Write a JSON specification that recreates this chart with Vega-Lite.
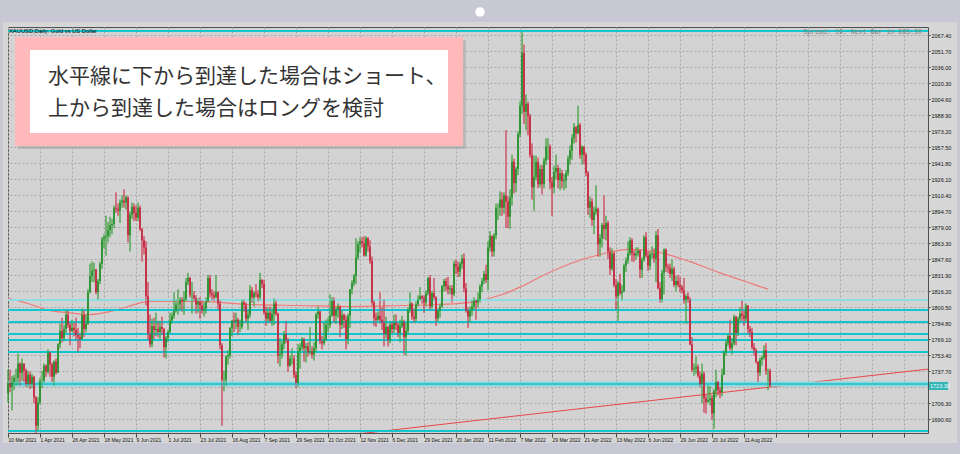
{
"$schema":"https://vega.github.io/schema/vega-lite/v6.json",
"width":920,"height":406,
"autosize":{"type":"none"},
"padding":{"left":8,"top":27,"right":32,"bottom":21},
"background":"#d6d6d6",
"config":{"view":{"stroke":"#505050","strokeWidth":1,"fill":"#d3d3d3"},
"axis":{"labelFont":"Liberation Sans","labelFontSize":5.5,"labelColor":"#111","gridColor":"#a8a8a8","gridDash":[2,2],"gridWidth":1,"tickColor":"#444","domain":false}},
"datasets":{
"frame":[{"x1":-4,"x2":476,"p1":2103,"p2":2080.2},{"x1":-4,"x2":476,"p1":1667.1,"p2":1654},{"x1":-4,"x2":-2.5,"p1":2103,"p2":1654},{"x1":474.5,"x2":476,"p1":2103,"p2":1654}],
"dot":[{"i":236,"p":2090}],
"ma":[{"i":0,"p":1809},{"i":10,"p":1804},{"i":21,"p":1797},{"i":30,"p":1795},{"i":40,"p":1793},{"i":51,"p":1796},{"i":60,"p":1801},{"i":71,"p":1806},{"i":96,"p":1806},{"i":121,"p":1803},{"i":146,"p":1802},{"i":171,"p":1801},{"i":196,"p":1802},{"i":216,"p":1803},{"i":231,"p":1805},{"i":246,"p":1812},{"i":256,"p":1820},{"i":268,"p":1832},{"i":281,"p":1843},{"i":296,"p":1852},{"i":311,"p":1857},{"i":326,"p":1854},{"i":341,"p":1845},{"i":356,"p":1834},{"i":368,"p":1826},{"i":380,"p":1818}],
"trend":[{"i":175,"p":1676},{"i":460,"p":1739.6}],
"levels":[{"p":2071.3,"k":"n"},{"p":1807.3,"k":"pale"},{"p":1797.5,"k":"n"},{"p":1785.7,"k":"n"},{"p":1774.0,"k":"n"},{"p":1768.1,"k":"n"},{"p":1756.3,"k":"n"},{"p":1724.9,"k":"wide"},{"p":1678.8,"k":"n"}],
"box":[{"x1":5,"x2":229,"p1":2062.5,"p2":1955.5,"k":"shadow"},{"x1":3.5,"x2":227.5,"p1":2065.4,"p2":1958.5,"k":"pink"},{"x1":11,"x2":220,"p1":2052.7,"p2":1971.2,"k":"white"}],
"note":[{"i":20,"p":2026.2,"t":"水平線に下から到達した場合はショート、"},{"i":20,"p":1994.8,"t":"上から到達した場合はロングを検討"}],
"pbox":[{"x1":460.5,"x2":470,"p1":1727.0,"p2":1719.1,"i":461,"p":1723,"t":"1723.30"}],
"candles":[
{"i":0,"o":1716,"h":1739,"l":1707,"c":1726},{"i":1,"o":1726,"h":1739,"l":1717,"c":1722},{"i":2,"o":1722,"h":1733,"l":1699,"c":1727},{"i":3,"o":1727,"h":1734,"l":1719,"c":1731},{"i":4,"o":1731,"h":1740,"l":1723,"c":1731},{"i":5,"o":1731,"h":1755,"l":1724,"c":1745},{"i":6,"o":1745,"h":1746,"l":1723,"c":1736},{"i":7,"o":1736,"h":1750,"l":1728,"c":1745},{"i":8,"o":1745,"h":1745,"l":1727,"c":1738},{"i":9,"o":1738,"h":1740,"l":1722,"c":1725},
{"i":10,"o":1725,"h":1738,"l":1722,"c":1734},{"i":11,"o":1734,"h":1737,"l":1720,"c":1725},{"i":12,"o":1725,"h":1735,"l":1721,"c":1732},{"i":13,"o":1732,"h":1733,"l":1706,"c":1712},{"i":14,"o":1712,"h":1713,"l":1677,"c":1684},{"i":15,"o":1684,"h":1712,"l":1679,"c":1707},{"i":16,"o":1707,"h":1731,"l":1705,"c":1728},{"i":17,"o":1728,"h":1738,"l":1721,"c":1728},{"i":18,"o":1728,"h":1745,"l":1726,"c":1743},{"i":19,"o":1743,"h":1744,"l":1732,"c":1737},
{"i":20,"o":1737,"h":1759,"l":1735,"c":1756},{"i":21,"o":1756,"h":1757,"l":1732,"c":1744},{"i":22,"o":1744,"h":1746,"l":1727,"c":1732},{"i":23,"o":1732,"h":1748,"l":1723,"c":1747},{"i":24,"o":1747,"h":1750,"l":1734,"c":1736},{"i":25,"o":1736,"h":1765,"l":1736,"c":1764},{"i":26,"o":1764,"h":1784,"l":1760,"c":1777},{"i":27,"o":1777,"h":1790,"l":1766,"c":1770},{"i":28,"o":1770,"h":1783,"l":1767,"c":1779},{"i":29,"o":1779,"h":1797,"l":1775,"c":1793},
{"i":30,"o":1793,"h":1797,"l":1780,"c":1783},{"i":31,"o":1783,"h":1785,"l":1763,"c":1777},{"i":32,"o":1777,"h":1788,"l":1776,"c":1780},{"i":33,"o":1780,"h":1785,"l":1772,"c":1778},{"i":34,"o":1778,"h":1790,"l":1768,"c":1773},{"i":35,"o":1773,"h":1780,"l":1756,"c":1771},{"i":36,"o":1771,"h":1775,"l":1760,"c":1769},{"i":37,"o":1769,"h":1799,"l":1768,"c":1793},{"i":38,"o":1793,"h":1798,"l":1771,"c":1779},{"i":39,"o":1779,"h":1793,"l":1776,"c":1784},
{"i":40,"o":1784,"h":1818,"l":1783,"c":1815},{"i":41,"o":1815,"h":1843,"l":1814,"c":1831},{"i":42,"o":1831,"h":1845,"l":1825,"c":1836},{"i":43,"o":1836,"h":1844,"l":1825,"c":1837},{"i":44,"o":1837,"h":1838,"l":1813,"c":1815},{"i":45,"o":1815,"h":1828,"l":1808,"c":1826},{"i":46,"o":1826,"h":1845,"l":1823,"c":1843},{"i":47,"o":1843,"h":1869,"l":1838,"c":1867},{"i":48,"o":1867,"h":1872,"l":1858,"c":1869},{"i":49,"o":1869,"h":1890,"l":1851,"c":1870},
{"i":50,"o":1870,"h":1884,"l":1864,"c":1876},{"i":51,"o":1876,"h":1889,"l":1869,"c":1881},{"i":52,"o":1881,"h":1887,"l":1872,"c":1882},{"i":53,"o":1882,"h":1900,"l":1878,"c":1898},{"i":54,"o":1898,"h":1913,"l":1893,"c":1897},{"i":55,"o":1897,"h":1902,"l":1890,"c":1895},{"i":56,"o":1895,"h":1906,"l":1883,"c":1903},{"i":57,"o":1903,"h":1910,"l":1898,"c":1905},{"i":58,"o":1905,"h":1916,"l":1898,"c":1903},{"i":59,"o":1903,"h":1910,"l":1896,"c":1908},
{"i":60,"o":1908,"h":1909,"l":1864,"c":1871},{"i":61,"o":1871,"h":1894,"l":1855,"c":1891},{"i":62,"o":1891,"h":1903,"l":1887,"c":1899},{"i":63,"o":1899,"h":1902,"l":1885,"c":1893},{"i":64,"o":1893,"h":1900,"l":1885,"c":1888},{"i":65,"o":1888,"h":1903,"l":1885,"c":1898},{"i":66,"o":1898,"h":1900,"l":1875,"c":1877},{"i":67,"o":1877,"h":1878,"l":1845,"c":1866},{"i":68,"o":1866,"h":1870,"l":1852,"c":1859},{"i":69,"o":1859,"h":1865,"l":1802,"c":1811},
{"i":70,"o":1811,"h":1825,"l":1768,"c":1774},{"i":71,"o":1774,"h":1793,"l":1761,"c":1764},{"i":72,"o":1764,"h":1789,"l":1761,"c":1782},{"i":73,"o":1782,"h":1790,"l":1769,"c":1778},{"i":74,"o":1778,"h":1795,"l":1772,"c":1779},{"i":75,"o":1779,"h":1787,"l":1771,"c":1776},{"i":76,"o":1776,"h":1787,"l":1768,"c":1781},{"i":77,"o":1781,"h":1791,"l":1773,"c":1779},{"i":78,"o":1779,"h":1780,"l":1751,"c":1761},{"i":79,"o":1761,"h":1772,"l":1750,"c":1770},
{"i":80,"o":1770,"h":1778,"l":1766,"c":1776},{"i":81,"o":1776,"h":1795,"l":1775,"c":1787},{"i":82,"o":1787,"h":1795,"l":1784,"c":1792},{"i":83,"o":1792,"h":1815,"l":1789,"c":1797},{"i":84,"o":1797,"h":1808,"l":1795,"c":1803},{"i":85,"o":1803,"h":1818,"l":1793,"c":1803},{"i":86,"o":1803,"h":1810,"l":1797,"c":1808},{"i":87,"o":1808,"h":1810,"l":1796,"c":1806},{"i":88,"o":1806,"h":1816,"l":1793,"c":1808},{"i":89,"o":1808,"h":1829,"l":1806,"c":1825},
{"i":90,"o":1825,"h":1834,"l":1822,"c":1829},{"i":91,"o":1829,"h":1830,"l":1810,"c":1812},{"i":92,"o":1812,"h":1825,"l":1794,"c":1812},{"i":93,"o":1812,"h":1816,"l":1806,"c":1809},{"i":94,"o":1809,"h":1812,"l":1794,"c":1803},{"i":95,"o":1803,"h":1809,"l":1795,"c":1806},{"i":96,"o":1806,"h":1810,"l":1789,"c":1802},{"i":97,"o":1802,"h":1807,"l":1794,"c":1797},{"i":98,"o":1797,"h":1805,"l":1791,"c":1799},{"i":99,"o":1799,"h":1810,"l":1794,"c":1806},
{"i":100,"o":1806,"h":1832,"l":1805,"c":1829},{"i":101,"o":1829,"h":1832,"l":1810,"c":1814},{"i":102,"o":1814,"h":1818,"l":1807,"c":1812},{"i":103,"o":1812,"h":1816,"l":1806,"c":1810},{"i":104,"o":1810,"h":1832,"l":1809,"c":1815},{"i":105,"o":1815,"h":1816,"l":1798,"c":1804},{"i":106,"o":1804,"h":1807,"l":1759,"c":1763},{"i":107,"o":1763,"h":1765,"l":1684,"c":1729},{"i":108,"o":1729,"h":1738,"l":1718,"c":1729},{"i":109,"o":1729,"h":1753,"l":1723,"c":1752},
{"i":110,"o":1752,"h":1758,"l":1744,"c":1753},{"i":111,"o":1753,"h":1781,"l":1750,"c":1780},{"i":112,"o":1780,"h":1788,"l":1772,"c":1787},{"i":113,"o":1787,"h":1795,"l":1776,"c":1786},{"i":114,"o":1786,"h":1795,"l":1779,"c":1788},{"i":115,"o":1788,"h":1790,"l":1773,"c":1781},{"i":116,"o":1781,"h":1788,"l":1776,"c":1781},{"i":117,"o":1781,"h":1808,"l":1779,"c":1805},{"i":118,"o":1805,"h":1808,"l":1796,"c":1803},{"i":119,"o":1803,"h":1805,"l":1785,"c":1789},
{"i":120,"o":1789,"h":1797,"l":1778,"c":1793},{"i":121,"o":1793,"h":1822,"l":1790,"c":1817},{"i":122,"o":1817,"h":1820,"l":1805,"c":1810},{"i":123,"o":1810,"h":1816,"l":1801,"c":1814},{"i":124,"o":1814,"h":1823,"l":1810,"c":1813},{"i":125,"o":1813,"h":1817,"l":1806,"c":1810},{"i":126,"o":1810,"h":1834,"l":1807,"c":1827},{"i":127,"o":1827,"h":1828,"l":1819,"c":1823},{"i":128,"o":1823,"h":1827,"l":1793,"c":1795},{"i":129,"o":1795,"h":1801,"l":1782,"c":1789},
{"i":130,"o":1789,"h":1800,"l":1786,"c":1795},{"i":131,"o":1795,"h":1801,"l":1785,"c":1787},{"i":132,"o":1787,"h":1799,"l":1782,"c":1794},{"i":133,"o":1794,"h":1809,"l":1783,"c":1804},{"i":134,"o":1804,"h":1807,"l":1792,"c":1794},{"i":135,"o":1794,"h":1795,"l":1745,"c":1753},{"i":136,"o":1753,"h":1770,"l":1742,"c":1754},{"i":137,"o":1754,"h":1767,"l":1750,"c":1764},{"i":138,"o":1764,"h":1777,"l":1759,"c":1774},{"i":139,"o":1774,"h":1787,"l":1765,"c":1768},
{"i":140,"o":1768,"h":1770,"l":1737,"c":1743},{"i":141,"o":1743,"h":1753,"l":1742,"c":1750},{"i":142,"o":1750,"h":1760,"l":1744,"c":1750},{"i":143,"o":1750,"h":1753,"l":1731,"c":1734},{"i":144,"o":1734,"h":1737,"l":1721,"c":1726},{"i":145,"o":1726,"h":1764,"l":1722,"c":1757},{"i":146,"o":1757,"h":1765,"l":1740,"c":1761},{"i":147,"o":1761,"h":1771,"l":1758,"c":1769},{"i":148,"o":1769,"h":1770,"l":1747,"c":1760},{"i":149,"o":1760,"h":1765,"l":1746,"c":1762},
{"i":150,"o":1762,"h":1766,"l":1752,"c":1756},{"i":151,"o":1756,"h":1781,"l":1754,"c":1757},{"i":152,"o":1757,"h":1762,"l":1750,"c":1754},{"i":153,"o":1754,"h":1766,"l":1748,"c":1760},{"i":154,"o":1760,"h":1795,"l":1756,"c":1793},{"i":155,"o":1793,"h":1801,"l":1789,"c":1796},{"i":156,"o":1796,"h":1797,"l":1764,"c":1767},{"i":157,"o":1767,"h":1772,"l":1759,"c":1765},{"i":158,"o":1765,"h":1785,"l":1763,"c":1769},{"i":159,"o":1769,"h":1788,"l":1767,"c":1783},
{"i":160,"o":1783,"h":1790,"l":1776,"c":1783},{"i":161,"o":1783,"h":1813,"l":1780,"c":1792},{"i":162,"o":1792,"h":1810,"l":1791,"c":1807},{"i":163,"o":1807,"h":1810,"l":1785,"c":1792},{"i":164,"o":1792,"h":1800,"l":1784,"c":1798},{"i":165,"o":1798,"h":1804,"l":1790,"c":1801},{"i":166,"o":1801,"h":1802,"l":1771,"c":1783},{"i":167,"o":1783,"h":1797,"l":1779,"c":1793},{"i":168,"o":1793,"h":1794,"l":1780,"c":1788},{"i":169,"o":1788,"h":1792,"l":1759,"c":1769},
{"i":170,"o":1769,"h":1794,"l":1764,"c":1792},{"i":171,"o":1792,"h":1818,"l":1780,"c":1818},{"i":172,"o":1818,"h":1827,"l":1813,"c":1824},{"i":173,"o":1824,"h":1833,"l":1821,"c":1831},{"i":174,"o":1831,"h":1868,"l":1823,"c":1849},{"i":175,"o":1849,"h":1865,"l":1847,"c":1862},{"i":176,"o":1862,"h":1869,"l":1854,"c":1865},{"i":177,"o":1865,"h":1869,"l":1859,"c":1863},{"i":178,"o":1863,"h":1870,"l":1850,"c":1851},{"i":179,"o":1851,"h":1870,"l":1850,"c":1868},
{"i":180,"o":1868,"h":1869,"l":1855,"c":1860},{"i":181,"o":1860,"h":1866,"l":1843,"c":1846},{"i":182,"o":1846,"h":1850,"l":1802,"c":1805},{"i":183,"o":1805,"h":1807,"l":1782,"c":1790},{"i":184,"o":1790,"h":1795,"l":1781,"c":1788},{"i":185,"o":1788,"h":1796,"l":1787,"c":1792},{"i":186,"o":1792,"h":1815,"l":1785,"c":1788},{"i":187,"o":1788,"h":1800,"l":1778,"c":1785},{"i":188,"o":1785,"h":1808,"l":1762,"c":1774},{"i":189,"o":1774,"h":1791,"l":1770,"c":1781},
{"i":190,"o":1781,"h":1782,"l":1762,"c":1768},{"i":191,"o":1768,"h":1786,"l":1765,"c":1783},{"i":192,"o":1783,"h":1786,"l":1775,"c":1779},{"i":193,"o":1779,"h":1793,"l":1775,"c":1785},{"i":194,"o":1785,"h":1793,"l":1778,"c":1783},{"i":195,"o":1783,"h":1785,"l":1771,"c":1775},{"i":196,"o":1775,"h":1788,"l":1766,"c":1782},{"i":197,"o":1782,"h":1792,"l":1780,"c":1786},{"i":198,"o":1786,"h":1788,"l":1754,"c":1771},{"i":199,"o":1771,"h":1785,"l":1753,"c":1777},
{"i":200,"o":1777,"h":1800,"l":1774,"c":1798},{"i":201,"o":1798,"h":1815,"l":1795,"c":1804},{"i":202,"o":1804,"h":1805,"l":1788,"c":1791},{"i":203,"o":1791,"h":1799,"l":1785,"c":1789},{"i":204,"o":1789,"h":1806,"l":1786,"c":1803},{"i":205,"o":1803,"h":1812,"l":1801,"c":1808},{"i":206,"o":1808,"h":1820,"l":1807,"c":1811},{"i":207,"o":1811,"h":1812,"l":1804,"c":1809},{"i":208,"o":1809,"h":1812,"l":1795,"c":1805},{"i":209,"o":1805,"h":1817,"l":1801,"c":1814},
{"i":210,"o":1814,"h":1830,"l":1812,"c":1829},{"i":211,"o":1829,"h":1832,"l":1798,"c":1801},{"i":212,"o":1801,"h":1816,"l":1799,"c":1814},{"i":213,"o":1814,"h":1829,"l":1807,"c":1810},{"i":214,"o":1810,"h":1811,"l":1782,"c":1789},{"i":215,"o":1789,"h":1799,"l":1786,"c":1797},{"i":216,"o":1797,"h":1804,"l":1790,"c":1801},{"i":217,"o":1801,"h":1822,"l":1800,"c":1821},{"i":218,"o":1821,"h":1828,"l":1816,"c":1826},{"i":219,"o":1826,"h":1829,"l":1816,"c":1821},
{"i":220,"o":1821,"h":1830,"l":1813,"c":1818},{"i":221,"o":1818,"h":1822,"l":1813,"c":1819},{"i":222,"o":1819,"h":1822,"l":1805,"c":1813},{"i":223,"o":1813,"h":1846,"l":1811,"c":1843},{"i":224,"o":1843,"h":1847,"l":1833,"c":1840},{"i":225,"o":1840,"h":1845,"l":1830,"c":1835},{"i":226,"o":1835,"h":1845,"l":1830,"c":1843},{"i":227,"o":1843,"h":1852,"l":1838,"c":1848},{"i":228,"o":1848,"h":1853,"l":1815,"c":1819},{"i":229,"o":1819,"h":1824,"l":1795,"c":1797},
{"i":230,"o":1797,"h":1800,"l":1780,"c":1791},{"i":231,"o":1791,"h":1801,"l":1785,"c":1797},{"i":232,"o":1797,"h":1807,"l":1792,"c":1801},{"i":233,"o":1801,"h":1810,"l":1798,"c":1807},{"i":234,"o":1807,"h":1808,"l":1788,"c":1805},{"i":235,"o":1805,"h":1815,"l":1800,"c":1808},{"i":236,"o":1808,"h":1823,"l":1805,"c":1821},{"i":237,"o":1821,"h":1829,"l":1815,"c":1826},{"i":238,"o":1826,"h":1836,"l":1823,"c":1833},{"i":239,"o":1833,"h":1842,"l":1824,"c":1827},
{"i":240,"o":1827,"h":1865,"l":1817,"c":1859},{"i":241,"o":1859,"h":1875,"l":1855,"c":1870},{"i":242,"o":1870,"h":1871,"l":1850,"c":1855},{"i":243,"o":1855,"h":1873,"l":1850,"c":1871},{"i":244,"o":1871,"h":1902,"l":1867,"c":1898},{"i":245,"o":1898,"h":1902,"l":1886,"c":1898},{"i":246,"o":1898,"h":1914,"l":1890,"c":1906},{"i":247,"o":1906,"h":1913,"l":1890,"c":1898},{"i":248,"o":1898,"h":1913,"l":1892,"c":1910},{"i":249,"o":1910,"h":1974,"l":1878,"c":1904},
{"i":250,"o":1904,"h":1909,"l":1878,"c":1889},{"i":251,"o":1889,"h":1916,"l":1877,"c":1908},{"i":252,"o":1908,"h":1950,"l":1900,"c":1943},{"i":253,"o":1943,"h":1946,"l":1912,"c":1922},{"i":254,"o":1922,"h":1938,"l":1913,"c":1936},{"i":255,"o":1936,"h":1973,"l":1930,"c":1970},{"i":256,"o":1970,"h":2002,"l":1967,"c":1998},{"i":257,"o":1998,"h":2070,"l":1990,"c":2050},{"i":258,"o":2050,"h":2058,"l":1980,"c":1992},{"i":259,"o":1992,"h":2009,"l":1974,"c":2000},
{"i":260,"o":2000,"h":2002,"l":1969,"c":1988},{"i":261,"o":1988,"h":1990,"l":1947,"c":1950},{"i":262,"o":1950,"h":1961,"l":1906,"c":1918},{"i":263,"o":1918,"h":1949,"l":1895,"c":1928},{"i":264,"o":1928,"h":1949,"l":1925,"c":1943},{"i":265,"o":1943,"h":1947,"l":1917,"c":1921},{"i":266,"o":1921,"h":1940,"l":1918,"c":1936},{"i":267,"o":1936,"h":1940,"l":1911,"c":1921},{"i":268,"o":1921,"h":1947,"l":1917,"c":1944},{"i":269,"o":1944,"h":1966,"l":1940,"c":1958},
{"i":270,"o":1958,"h":1966,"l":1945,"c":1958},{"i":271,"o":1958,"h":1960,"l":1916,"c":1923},{"i":272,"o":1923,"h":1928,"l":1890,"c":1918},{"i":273,"o":1918,"h":1939,"l":1912,"c":1933},{"i":274,"o":1933,"h":1950,"l":1926,"c":1937},{"i":275,"o":1937,"h":1940,"l":1917,"c":1925},{"i":276,"o":1925,"h":1937,"l":1915,"c":1932},{"i":277,"o":1932,"h":1935,"l":1917,"c":1924},{"i":278,"o":1924,"h":1931,"l":1915,"c":1925},{"i":279,"o":1925,"h":1935,"l":1917,"c":1932},
{"i":280,"o":1932,"h":1949,"l":1929,"c":1946},{"i":281,"o":1946,"h":1959,"l":1940,"c":1954},{"i":282,"o":1954,"h":1970,"l":1945,"c":1966},{"i":283,"o":1966,"h":1981,"l":1961,"c":1977},{"i":284,"o":1977,"h":1978,"l":1962,"c":1971},{"i":285,"o":1971,"h":1998,"l":1970,"c":1979},{"i":286,"o":1979,"h":1981,"l":1946,"c":1950},{"i":287,"o":1950,"h":1959,"l":1940,"c":1958},{"i":288,"o":1958,"h":1958,"l":1941,"c":1950},{"i":289,"o":1950,"h":1952,"l":1929,"c":1932},
{"i":290,"o":1932,"h":1934,"l":1891,"c":1898},{"i":291,"o":1898,"h":1909,"l":1888,"c":1904},{"i":292,"o":1904,"h":1907,"l":1880,"c":1886},{"i":293,"o":1886,"h":1899,"l":1872,"c":1894},{"i":294,"o":1894,"h":1920,"l":1891,"c":1897},{"i":295,"o":1897,"h":1898,"l":1850,"c":1862},{"i":296,"o":1862,"h":1872,"l":1850,"c":1868},{"i":297,"o":1868,"h":1883,"l":1859,"c":1881},{"i":298,"o":1881,"h":1910,"l":1867,"c":1877},{"i":299,"o":1877,"h":1890,"l":1866,"c":1883},
{"i":300,"o":1883,"h":1885,"l":1848,"c":1855},{"i":301,"o":1855,"h":1859,"l":1832,"c":1838},{"i":302,"o":1838,"h":1858,"l":1836,"c":1853},{"i":303,"o":1853,"h":1855,"l":1820,"c":1822},{"i":304,"o":1822,"h":1828,"l":1798,"c":1811},{"i":305,"o":1811,"h":1826,"l":1787,"c":1824},{"i":306,"o":1824,"h":1833,"l":1812,"c":1814},{"i":307,"o":1814,"h":1822,"l":1807,"c":1816},{"i":308,"o":1816,"h":1843,"l":1815,"c":1841},{"i":309,"o":1841,"h":1849,"l":1835,"c":1846},
{"i":310,"o":1846,"h":1865,"l":1843,"c":1853},{"i":311,"o":1853,"h":1869,"l":1851,"c":1866},{"i":312,"o":1866,"h":1868,"l":1845,"c":1853},{"i":313,"o":1853,"h":1856,"l":1845,"c":1851},{"i":314,"o":1851,"h":1859,"l":1847,"c":1853},{"i":315,"o":1853,"h":1859,"l":1850,"c":1856},{"i":316,"o":1856,"h":1857,"l":1829,"c":1837},{"i":317,"o":1837,"h":1849,"l":1829,"c":1847},{"i":318,"o":1847,"h":1871,"l":1845,"c":1869},{"i":319,"o":1869,"h":1874,"l":1849,"c":1851},
{"i":320,"o":1851,"h":1855,"l":1836,"c":1841},{"i":321,"o":1841,"h":1855,"l":1837,"c":1852},{"i":322,"o":1852,"h":1860,"l":1848,"c":1853},{"i":323,"o":1853,"h":1858,"l":1844,"c":1848},{"i":324,"o":1848,"h":1875,"l":1825,"c":1871},{"i":325,"o":1871,"h":1877,"l":1818,"c":1819},{"i":326,"o":1819,"h":1825,"l":1805,"c":1808},{"i":327,"o":1808,"h":1837,"l":1805,"c":1834},{"i":328,"o":1834,"h":1858,"l":1813,"c":1857},{"i":329,"o":1857,"h":1858,"l":1835,"c":1840},
{"i":330,"o":1840,"h":1843,"l":1834,"c":1839},{"i":331,"o":1839,"h":1843,"l":1829,"c":1833},{"i":332,"o":1833,"h":1847,"l":1826,"c":1838},{"i":333,"o":1838,"h":1840,"l":1820,"c":1822},{"i":334,"o":1822,"h":1831,"l":1816,"c":1826},{"i":335,"o":1826,"h":1832,"l":1820,"c":1822},{"i":336,"o":1822,"h":1830,"l":1815,"c":1820},{"i":337,"o":1820,"h":1822,"l":1814,"c":1817},{"i":338,"o":1817,"h":1829,"l":1804,"c":1807},{"i":339,"o":1807,"h":1813,"l":1784,"c":1811},
{"i":340,"o":1811,"h":1815,"l":1805,"c":1808},{"i":341,"o":1808,"h":1810,"l":1763,"c":1764},{"i":342,"o":1764,"h":1771,"l":1737,"c":1739},{"i":343,"o":1739,"h":1745,"l":1733,"c":1740},{"i":344,"o":1740,"h":1752,"l":1735,"c":1742},{"i":345,"o":1742,"h":1744,"l":1731,"c":1733},{"i":346,"o":1733,"h":1737,"l":1722,"c":1725},{"i":347,"o":1725,"h":1745,"l":1706,"c":1735},{"i":348,"o":1735,"h":1737,"l":1697,"c":1711},{"i":349,"o":1711,"h":1714,"l":1696,"c":1707},
{"i":350,"o":1707,"h":1724,"l":1707,"c":1709},{"i":351,"o":1709,"h":1723,"l":1704,"c":1711},{"i":352,"o":1711,"h":1714,"l":1690,"c":1696},{"i":353,"o":1696,"h":1720,"l":1681,"c":1718},{"i":354,"o":1718,"h":1739,"l":1712,"c":1727},{"i":355,"o":1727,"h":1728,"l":1714,"c":1719},{"i":356,"o":1719,"h":1722,"l":1711,"c":1717},{"i":357,"o":1717,"h":1740,"l":1713,"c":1734},{"i":358,"o":1734,"h":1758,"l":1734,"c":1756},{"i":359,"o":1756,"h":1768,"l":1753,"c":1765},
{"i":360,"o":1765,"h":1774,"l":1762,"c":1772},{"i":361,"o":1772,"h":1788,"l":1758,"c":1760},{"i":362,"o":1760,"h":1770,"l":1754,"c":1765},{"i":363,"o":1765,"h":1793,"l":1763,"c":1791},{"i":364,"o":1791,"h":1792,"l":1763,"c":1775},{"i":365,"o":1775,"h":1791,"l":1772,"c":1789},{"i":366,"o":1789,"h":1800,"l":1786,"c":1794},{"i":367,"o":1794,"h":1807,"l":1787,"c":1792},{"i":368,"o":1792,"h":1797,"l":1782,"c":1789},{"i":369,"o":1789,"h":1804,"l":1786,"c":1802},
{"i":370,"o":1802,"h":1802,"l":1774,"c":1779},{"i":371,"o":1779,"h":1782,"l":1771,"c":1776},{"i":372,"o":1776,"h":1780,"l":1759,"c":1761},{"i":373,"o":1761,"h":1765,"l":1753,"c":1758},{"i":374,"o":1758,"h":1760,"l":1745,"c":1747},{"i":375,"o":1747,"h":1747,"l":1727,"c":1736},{"i":376,"o":1736,"h":1751,"l":1733,"c":1749},{"i":377,"o":1749,"h":1753,"l":1743,"c":1751},{"i":378,"o":1751,"h":1763,"l":1749,"c":1758},{"i":379,"o":1758,"h":1765,"l":1734,"c":1738},
{"i":380,"o":1738,"h":1740,"l":1719,"c":1738},{"i":381,"o":1738,"h":1740,"l":1722,"c":1723}
]},
"layer":[
{"data":{"name":"candles"},"mark":{"type":"rule","strokeWidth":1,"opacity":0.65},
 "encoding":{"x":{"field":"i","type":"quantitative","title":null,"scale":{"domain":[0,460],"nice":false,"zero":false},
   "axis":{"values":[0,16,32,48,64,80,96,112,128,144,160,176,192,208,224,240,256,272,288,304,320,336,352,368,384,400,416,432,448],"tickCount":200,
   "labelExpr":"['10 Mar 2021','1 Apr 2021','26 Apr 2021','18 May 2021','9 Jun 2021','1 Jul 2021','23 Jul 2021','16 Aug 2021','7 Sep 2021','29 Sep 2021','21 Oct 2021','12 Nov 2021','6 Dec 2021','29 Dec 2021','20 Jan 2022','11 Feb 2022','7 Mar 2022','29 Mar 2022','21 Apr 2022','13 May 2022','6 Jun 2022','29 Jun 2022','20 Jul 2022','11 Aug 2022'][datum.value/16] || ''",
   "grid":true,"ticks":true,"tickSize":4,"tickColor":"#444","labelFontSize":5,
   "labelAlign":"left","labelBaseline":"top","labelPadding":0,"labelDx":1,"labelOverlap":false,"labelFlush":false,"orient":"bottom","title":null}},
  "y":{"field":"l","type":"quantitative","title":null,"scale":{"domain":[1676.9,2075.25],"nice":false,"zero":false},
   "axis":{"orient":"right","values":[1690.6,1706.3,1722.0,1737.7,1753.4,1769.1,1784.8,1800.5,1816.2,1831.9,1847.6,1863.3,1879.0,1894.7,1910.4,1926.1,1941.8,1957.5,1973.2,1988.9,2004.6,2020.3,2036.0,2051.7,2067.4],"tickCount":200,
   "labelExpr":"datum.value == 1722 ? '' : format(datum.value, '.2f')","grid":true,"ticks":true,"tickSize":2,"labelPadding":1,"labelAlign":"left","labelBaseline":"middle","labelOverlap":false,"labelFlush":false,"title":null}},
  "y2":{"field":"h"},
  "color":{"condition":{"test":"datum.c >= datum.o","value":"#2a9a2a"},"value":"#cc2a3e"}}},
{"data":{"name":"frame"},"mark":{"type":"rect","color":"#c8c8d4","clip":false},
 "encoding":{"x":{"field":"x1","type":"quantitative","title":null},"x2":{"field":"x2"},
 "y":{"field":"p1","type":"quantitative","title":null},"y2":{"field":"p2"}}},
{"data":{"name":"dot"},"mark":{"type":"point","filled":true,"color":"#ffffff","opacity":1,"size":90,"clip":false},
 "encoding":{"x":{"field":"i","type":"quantitative","title":null},"y":{"field":"p","type":"quantitative","title":null}}},
{"data":{"name":"ma"},"mark":{"type":"line","color":"#ee7b7b","strokeWidth":1.2,"interpolate":"monotone","clip":true},
 "encoding":{"x":{"field":"i","type":"quantitative","title":null},"y":{"field":"p","type":"quantitative","title":null}}},
{"data":{"name":"trend"},"mark":{"type":"line","color":"#e84848","strokeWidth":1,"clip":true},
 "encoding":{"x":{"field":"i","type":"quantitative","title":null},"y":{"field":"p","type":"quantitative","title":null}}},
{"data":{"name":"levels"},"transform":[{"filter":"datum.k=='n'"}],"mark":{"type":"rule","color":"#12c6cf","strokeWidth":2,"clip":true},
 "encoding":{"y":{"field":"p","type":"quantitative","title":null}}},
{"data":{"name":"levels"},"transform":[{"filter":"datum.k=='pale'"}],"mark":{"type":"rule","color":"#8ddde2","strokeWidth":2,"clip":true},
 "encoding":{"y":{"field":"p","type":"quantitative","title":null}}},
{"data":{"name":"levels"},"transform":[{"filter":"datum.k=='wide'"}],"mark":{"type":"rule","color":"#86d9de","strokeWidth":5,"clip":true},
 "encoding":{"y":{"field":"p","type":"quantitative","title":null}}},
{"data":{"name":"levels"},"transform":[{"filter":"datum.k=='wide'"}],"mark":{"type":"rule","color":"#1cbfc8","strokeWidth":1.5,"clip":true},
 "encoding":{"y":{"field":"p","type":"quantitative","title":null}}},
{"data":{"name":"candles"},"mark":{"type":"rule","strokeWidth":1,"opacity":0.65},
 "encoding":{"x":{"field":"i","type":"quantitative","title":null},"y":{"field":"l","type":"quantitative","title":null},"y2":{"field":"h"},
  "color":{"condition":{"test":"datum.c >= datum.o","value":"#2a9a2a"},"value":"#cc2a3e"}}},
{"data":{"name":"candles"},"mark":{"type":"rule","strokeWidth":1.5},
 "encoding":{"x":{"field":"i","type":"quantitative","title":null},"y":{"field":"o","type":"quantitative","title":null},"y2":{"field":"c"},
  "color":{"condition":{"test":"datum.c >= datum.o","value":"#1c8c24"},"value":"#c41e36"}}},
{"data":{"name":"box"},"transform":[{"filter":"datum.k=='shadow'"}],"mark":{"type":"rect","color":"#9a9a9a","opacity":0.45,"clip":false},
 "encoding":{"x":{"field":"x1","type":"quantitative","title":null},"x2":{"field":"x2"},"y":{"field":"p1","type":"quantitative","title":null},"y2":{"field":"p2"}}},
{"data":{"name":"box"},"transform":[{"filter":"datum.k=='pink'"}],"mark":{"type":"rect","color":"#ffb9bb","opacity":1,"clip":false},
 "encoding":{"x":{"field":"x1","type":"quantitative","title":null},"x2":{"field":"x2"},"y":{"field":"p1","type":"quantitative","title":null},"y2":{"field":"p2"}}},
{"data":{"name":"box"},"transform":[{"filter":"datum.k=='white'"}],"mark":{"type":"rect","color":"#ffffff","opacity":1,"clip":false},
 "encoding":{"x":{"field":"x1","type":"quantitative","title":null},"x2":{"field":"x2"},"y":{"field":"p1","type":"quantitative","title":null},"y2":{"field":"p2"}}},
{"data":{"name":"note"},"mark":{"type":"text","align":"left","baseline":"middle","font":"Noto Sans CJK JP","fontSize":21,"color":"#333333"},
 "encoding":{"x":{"field":"i","type":"quantitative","title":null},"y":{"field":"p","type":"quantitative","title":null},"text":{"field":"t"}}},
{"data":{"values":[{"i":0.5,"p":2071.3,"t":"XAUUSD,Daily:  Gold vs US Dollar"}]},"mark":{"type":"text","align":"left","baseline":"middle","font":"Liberation Sans","fontSize":5.8,"color":"#000000"},
 "encoding":{"x":{"field":"i","type":"quantitative","title":null},"y":{"field":"p","type":"quantitative","title":null},"text":{"field":"t"}}},
{"data":{"values":[{"i":457,"p":2070.3,"t":"Spread: 19. Next Bar in 885:30"}]},"mark":{"type":"text","align":"right","baseline":"middle","font":"Liberation Mono","fontSize":6.6,"color":"#7d847d"},
 "encoding":{"x":{"field":"i","type":"quantitative","title":null},"y":{"field":"p","type":"quantitative","title":null},"text":{"field":"t"}}},
{"data":{"name":"pbox"},"mark":{"type":"rect","color":"#35b4b4","clip":false},
 "encoding":{"x":{"field":"x1","type":"quantitative","title":null},"x2":{"field":"x2"},"y":{"field":"p1","type":"quantitative","title":null},"y2":{"field":"p2"}}},
{"data":{"name":"pbox"},"mark":{"type":"text","align":"left","baseline":"middle","font":"Liberation Sans","fontSize":5.5,"color":"#e8ffff","clip":false},
 "encoding":{"x":{"field":"i","type":"quantitative","title":null},"y":{"field":"p","type":"quantitative","title":null},"text":{"field":"t"}}}
]
}
